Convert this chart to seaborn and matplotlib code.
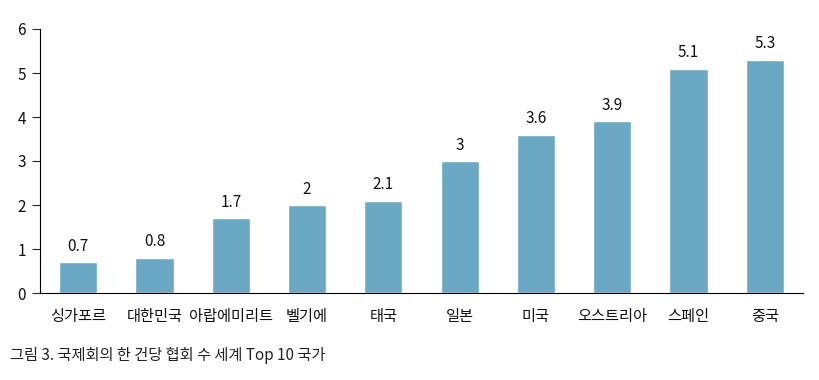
import matplotlib
matplotlib.use("Agg")
import matplotlib.pyplot as plt
import seaborn as sns
import pandas as pd

countries = ["싱가포르", "대한민국", "아랍에미리트", "벨기에", "태국",
             "일본", "미국", "오스트리아", "스페인", "중국"]
values = [0.7, 0.8, 1.7, 2, 2.1, 3, 3.6, 3.9, 5.1, 5.3]
value_labels = ["0.7", "0.8", "1.7", "2", "2.1", "3", "3.6", "3.9", "5.1", "5.3"]
title = "그림 3. 국제회의 한 건당 협회 수 세계 Top 10 국가"

sns.set_style("white")
plt.rcParams['font.family'] = ['Noto Sans CJK KR', 'DejaVu Sans']

df = pd.DataFrame({"country": countries, "value": values})

fig = plt.figure(figsize=(8.19, 3.8), dpi=100)
ax = fig.add_axes([40 / 819, 87 / 380, 763 / 819, 264 / 380])

sns.barplot(data=df, x="country", y="value", color="#6aa8c4",
            saturation=1, width=0.5, ax=ax)

for i, (v, lab) in enumerate(zip(values, value_labels)):
    ax.text(i, v + 0.17, lab, ha="center", va="bottom", fontsize=11,
            color="#111111", fontweight="medium")

ax.set_ylim(0, 6)
ax.set_xlim(-0.5, len(countries) - 0.5)
ax.set_yticks(range(0, 7))
ax.set_xlabel("")
ax.set_ylabel("")
ax.tick_params(axis="y", direction="out", length=6, width=0.8, labelsize=11,
               left=True, pad=4)
ax.tick_params(axis="x", length=0, labelsize=11, pad=11)
for lab in ax.get_xticklabels() + ax.get_yticklabels():
    lab.set_fontweight("medium")
    lab.set_color("#111111")
for s in ["top", "right"]:
    ax.spines[s].set_visible(False)
for s in ["left", "bottom"]:
    ax.spines[s].set_color("black")
    ax.spines[s].set_linewidth(0.8)

fig.text(10 / 819, 1 - 355 / 380, title, fontsize=11, va="center", ha="left",
         color="#222222", fontweight="medium")

fig.savefig("out.png", dpi=100)
